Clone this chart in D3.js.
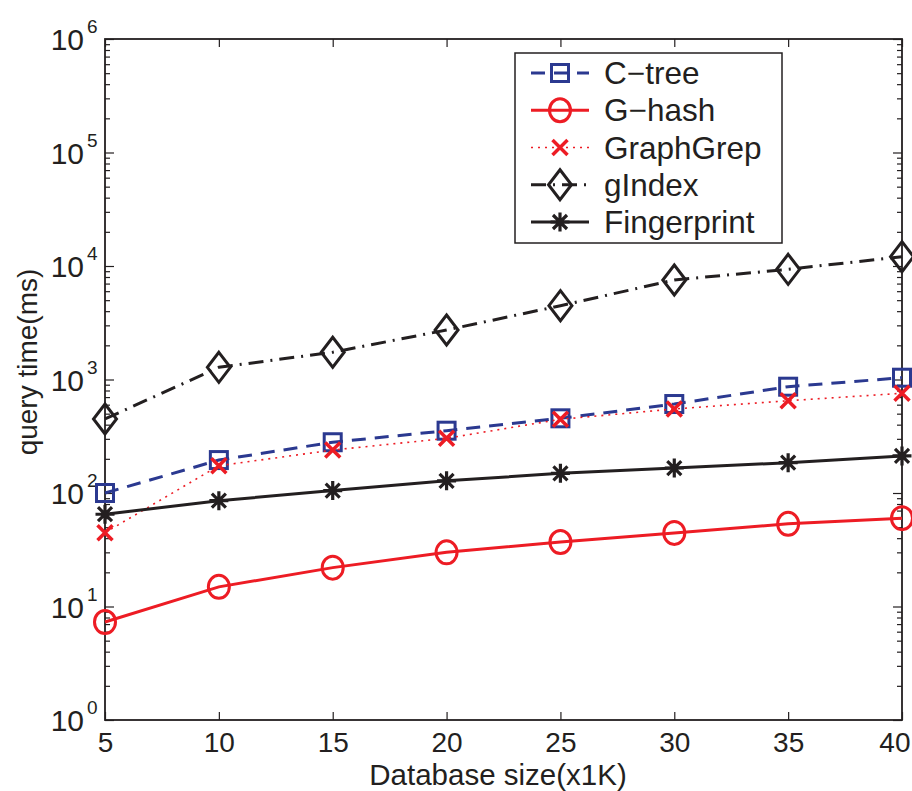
<!DOCTYPE html>
<html>
<head>
<meta charset="utf-8">
<script src="https://cdn.jsdelivr.net/npm/d3@7"></script>
<style>
  html, body { margin: 0; padding: 0; background: #fff; }
  svg { display: block; font-family: "Liberation Sans", Arial, Helvetica, sans-serif; }
</style>
</head>
<body>
<svg id="chart" width="912" height="791"></svg>
<script>
// Query time (ms) versus database size (thousands of graphs)
const sizes = [5, 10, 15, 20, 25, 30, 35, 40];
const ctree = [100, 195, 280, 354, 455, 608, 864, 1037];
const ghash = [7.3, 14.9, 22, 30, 37, 44.5, 53.5, 60];
const graphgrep = [44.7, 174, 239, 303, 446, 550, 650, 756];
const gindex = [449, 1280, 1738, 2730, 4470, 7530, 9350, 12080];
const fingerprint = [65, 85.5, 105, 128, 149, 166, 185, 212];

const seriesNames = ["C\u2212tree", "G\u2212hash", "GraphGrep", "gIndex", "Fingerprint"];
const xTickValues = [5, 10, 15, 20, 25, 30, 35, 40];
const yExponents = [0, 1, 2, 3, 4, 5, 6];

const BLUE = "#2b3990", RED = "#ed1c24", BLACK = "#231f20";

const styles = [
  { values: ctree,       color: BLUE,  width: 3,   dash: "14,9",       marker: "square" },
  { values: ghash,       color: RED,   width: 3,   dash: null,         marker: "circle" },
  { values: graphgrep,   color: RED,   width: 1.6, dash: "2,5",        marker: "cross" },
  { values: gindex,      color: BLACK, width: 3,   dash: "15,7,2,7",   marker: "diamond" },
  { values: fingerprint, color: BLACK, width: 3,   dash: null,         marker: "star" }
];

const plotLeft = 105, plotRight = 902, plotTop = 39, plotBottom = 720;
const svg = d3.select("#chart");

const x = d3.scaleLinear().domain([5, 40]).range([plotLeft, plotRight]);
const y = d3.scaleLog().domain([1, 1e6]).range([plotBottom, plotTop]);

// minor ticks at 2..9 x 10^k
const minorTicks = [];
for (let k = 0; k < 6; k++) for (let m = 2; m <= 9; m++) minorTicks.push(m * Math.pow(10, k));
const majorTicks = yExponents.map(e => Math.pow(10, e));

function styleAxis(g) {
  g.select(".domain").remove();
  g.selectAll(".tick line").attr("stroke", BLACK).attr("stroke-width", 1.2);
}

// x axis (bottom, labelled) and top mirror
svg.append("g").attr("transform", `translate(0,${plotBottom})`)
  .call(d3.axisBottom(x).tickValues(xTickValues).tickSize(-8).tickPadding(12).tickFormat(d3.format("d")))
  .call(styleAxis)
  .call(g => g.selectAll("text").attr("font-size", 28).attr("fill", BLACK))
  // keep the last label inside the page edge
  .call(g => g.selectAll(".tick text").filter(d => d === 40).attr("text-anchor", "end").attr("x", 8));
svg.append("g").attr("transform", `translate(0,${plotTop})`)
  .call(d3.axisTop(x).tickValues(xTickValues).tickSize(-8).tickFormat(""))
  .call(styleAxis);

// y axis: majors and minors, left and right
svg.append("g").attr("transform", `translate(${plotLeft},0)`)
  .call(d3.axisLeft(y).tickValues(majorTicks).tickSize(-9).tickFormat(""))
  .call(styleAxis);
svg.append("g").attr("transform", `translate(${plotLeft},0)`)
  .call(d3.axisLeft(y).tickValues(minorTicks).tickSize(-5).tickFormat(""))
  .call(styleAxis);
svg.append("g").attr("transform", `translate(${plotRight},0)`)
  .call(d3.axisRight(y).tickValues(majorTicks).tickSize(-9).tickFormat(""))
  .call(styleAxis);
svg.append("g").attr("transform", `translate(${plotRight},0)`)
  .call(d3.axisRight(y).tickValues(minorTicks).tickSize(-5).tickFormat(""))
  .call(styleAxis);
svg.selectAll("g").attr("font-family", null);

// y tick labels 10^k
const yLabels = svg.append("g").attr("fill", BLACK);
yExponents.forEach(e => {
  yLabels.append("text")
    .attr("x", 84).attr("y", y(Math.pow(10, e)) + 11)
    .attr("text-anchor", "end").attr("font-size", 30).text("10");
  yLabels.append("text")
    .attr("x", 87).attr("y", y(Math.pow(10, e)) - 6)
    .attr("font-size", 19).text(String(e));
});

// frame
svg.append("rect").attr("x", plotLeft).attr("y", plotTop)
  .attr("width", plotRight - plotLeft).attr("height", plotBottom - plotTop)
  .attr("fill", "none").attr("stroke", BLACK).attr("stroke-width", 1.8);

// markers
function drawMarker(g, type, cx, cy, color) {
  const sw = 3;
  if (type === "square") {
    g.append("rect").attr("x", cx - 8.5).attr("y", cy - 8.5).attr("width", 17).attr("height", 17)
      .attr("fill", "none").attr("stroke", color).attr("stroke-width", sw);
  } else if (type === "circle") {
    g.append("ellipse").attr("cx", cx).attr("cy", cy).attr("rx", 10.5).attr("ry", 11.5)
      .attr("fill", "none").attr("stroke", color).attr("stroke-width", sw);
  } else if (type === "cross") {
    const s = 7.5;
    g.append("path").attr("d", `M${cx - s},${cy - s}L${cx + s},${cy + s}M${cx - s},${cy + s}L${cx + s},${cy - s}`)
      .attr("stroke", color).attr("stroke-width", 3.5).attr("fill", "none");
  } else if (type === "diamond") {
    g.append("path").attr("d", `M${cx},${cy - 15}L${cx + 11.5},${cy}L${cx},${cy + 15}L${cx - 11.5},${cy}Z`)
      .attr("fill", "none").attr("stroke", color).attr("stroke-width", sw).attr("stroke-linejoin", "miter");
  } else if (type === "star") {
    const s = 9.5, d = 7;
    g.append("path").attr("d",
      `M${cx},${cy - s}L${cx},${cy + s}M${cx - s},${cy}L${cx + s},${cy}` +
      `M${cx - d},${cy - d}L${cx + d},${cy + d}M${cx - d},${cy + d}L${cx + d},${cy - d}`)
      .attr("stroke", color).attr("stroke-width", 3.2).attr("fill", "none");
  }
}

const line = d3.line().x(d => x(d[0])).y(d => y(d[1]));
const plot = svg.append("g");
styles.forEach(s => {
  const pts = sizes.map((v, i) => [v, s.values[i]]);
  plot.append("path").datum(pts).attr("d", line)
    .attr("fill", "none").attr("stroke", s.color).attr("stroke-width", s.width)
    .attr("stroke-dasharray", s.dash);
  const mg = plot.append("g");
  pts.forEach(p => drawMarker(mg, s.marker, x(p[0]), y(p[1]), s.color));
});

// axis titles
svg.append("text").attr("x", 498).attr("y", 784.5).attr("text-anchor", "middle")
  .attr("font-size", 29.5).attr("fill", BLACK).text("Database size(x1K)");
svg.append("text").attr("transform", "translate(37,362) rotate(-90)").attr("text-anchor", "middle")
  .attr("font-size", 28).attr("fill", BLACK).text("query time(ms)");

// legend
const lg = svg.append("g");
lg.append("rect").attr("x", 515).attr("y", 53).attr("width", 267).attr("height", 190)
  .attr("fill", "#fff").attr("stroke", BLACK).attr("stroke-width", 1.5);
const legendY = d3.scalePoint().domain(seriesNames).range([73, 222]);
styles.forEach((s, i) => {
  const yy = legendY(seriesNames[i]);
  lg.append("line").attr("x1", 531).attr("x2", 589).attr("y1", yy).attr("y2", yy)
    .attr("stroke", s.color).attr("stroke-width", s.width).attr("stroke-dasharray", s.dash);
  drawMarker(lg, s.marker, 560, yy, s.color);
  lg.append("text").attr("x", 604).attr("y", yy + 11).attr("font-size", 31.5).attr("fill", BLACK)
    .text(seriesNames[i]);
});
</script>
</body>
</html>
